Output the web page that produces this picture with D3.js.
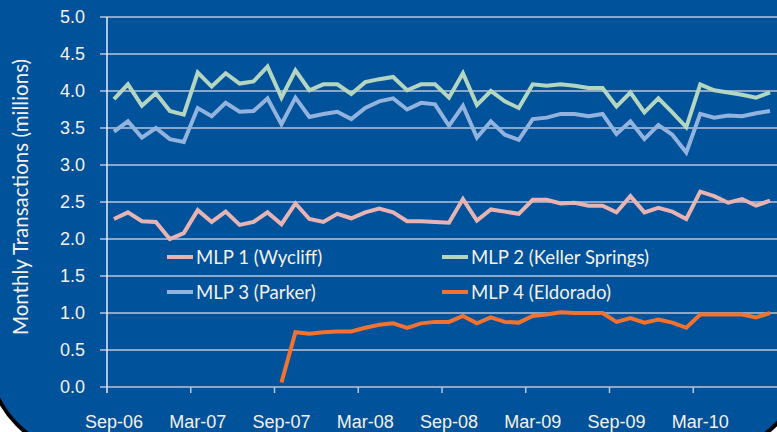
<!DOCTYPE html>
<html>
<head>
<meta charset="utf-8">
<script src="https://cdn.jsdelivr.net/npm/d3@7"></script>
<style>
body { margin: 0; background: #fff; }
svg { display: block; font-family: Lato, "Open Sans", sans-serif; }
</style>
</head>
<body>
<svg id="chart"></svg>
<script>
// months shown on the category axis, Sep-06 .. Aug-10
const months = [
  "Sep-06","Oct-06","Nov-06","Dec-06","Jan-07","Feb-07","Mar-07","Apr-07","May-07","Jun-07","Jul-07","Aug-07",
  "Sep-07","Oct-07","Nov-07","Dec-07","Jan-08","Feb-08","Mar-08","Apr-08","May-08","Jun-08","Jul-08","Aug-08",
  "Sep-08","Oct-08","Nov-08","Dec-08","Jan-09","Feb-09","Mar-09","Apr-09","May-09","Jun-09","Jul-09","Aug-09",
  "Sep-09","Oct-09","Nov-09","Dec-09","Jan-10","Feb-10","Mar-10","Apr-10","May-10","Jun-10","Jul-10","Aug-10"
];
const tickLabels = ["Sep-06","Mar-07","Sep-07","Mar-08","Sep-08","Mar-09","Sep-09","Mar-10"];
const yTicks = [0, 0.5, 1, 1.5, 2, 2.5, 3, 3.5, 4, 4.5, 5];

// monthly transactions, millions
const wycliff = [2.27,2.36,2.24,2.23,2.00,2.08,2.39,2.23,2.37,2.19,2.23,2.36,
                 2.20,2.48,2.27,2.23,2.34,2.28,2.36,2.41,2.36,2.24,2.24,2.23,
                 2.22,2.54,2.25,2.40,2.37,2.34,2.53,2.53,2.48,2.49,2.45,2.45,
                 2.36,2.58,2.36,2.42,2.37,2.27,2.64,2.58,2.49,2.54,2.45,2.52];
const kellerSprings = [3.89,4.09,3.80,3.97,3.73,3.68,4.25,4.06,4.24,4.10,4.13,4.33,
                       3.91,4.28,4.01,4.09,4.09,3.96,4.12,4.16,4.19,4.01,4.09,4.09,
                       3.91,4.24,3.81,4.00,3.86,3.77,4.09,4.07,4.09,4.07,4.04,4.04,
                       3.79,3.98,3.71,3.90,3.71,3.51,4.09,4.01,3.98,3.95,3.91,3.98];
const parker = [3.45,3.59,3.37,3.50,3.35,3.31,3.77,3.66,3.84,3.72,3.73,3.90,
                3.55,3.91,3.65,3.69,3.72,3.62,3.77,3.86,3.90,3.75,3.84,3.82,
                3.53,3.80,3.37,3.59,3.41,3.34,3.62,3.64,3.69,3.69,3.66,3.69,
                3.42,3.59,3.35,3.54,3.41,3.17,3.69,3.64,3.67,3.66,3.70,3.73];
const eldorado = [null,null,null,null,null,null,null,null,null,null,null,null,
                  0.06,0.74,0.72,0.74,0.75,0.75,0.80,0.84,0.86,0.80,0.86,0.88,
                  0.88,0.96,0.86,0.94,0.88,0.87,0.96,0.98,1.01,1.00,1.00,1.00,
                  0.88,0.93,0.87,0.91,0.87,0.80,0.98,0.98,0.98,0.98,0.94,1.00];

const series = [
  { name: "MLP 1 (Wycliff)", values: wycliff, color: "#e8b3b3" },
  { name: "MLP 2 (Keller Springs)", values: kellerSprings, color: "#b4d6c0" },
  { name: "MLP 3 (Parker)", values: parker, color: "#93b3df" },
  { name: "MLP 4 (Eldorado)", values: eldorado, color: "#f2722f" }
];

var dimensions = {
  width: 777,
  height: 432,
  margins: { top: 17, right: 0, bottom: 45, left: 107 }
};

var svg = d3.select("#chart")
  .attr("width", dimensions.width)
  .attr("height", dimensions.height);

// rounded slide panel with black edge, white outside
svg.append("rect")
  .attr("x", -12).attr("y", -150)
  .attr("width", 817).attr("height", 604)
  .attr("rx", 100).attr("ry", 100)
  .attr("fill", "#00529b")
  .attr("stroke", "#000")
  .attr("stroke-width", 4);

var xScale = d3.scaleBand()
  .domain(months)
  .range([dimensions.margins.left, dimensions.width])
  .paddingInner(0).paddingOuter(0);

var yScale = d3.scaleLinear()
  .domain([0, 5])
  .range([dimensions.height - dimensions.margins.bottom, dimensions.margins.top]);

var bw = xScale.bandwidth();

// gridlines
svg.append("g")
  .selectAll("line")
  .data(yTicks)
  .enter()
  .append("line")
  .attr("x1", dimensions.margins.left - 7)
  .attr("x2", dimensions.width)
  .attr("y1", d => yScale(d))
  .attr("y2", d => yScale(d))
  .attr("stroke", "#b9c5da")
  .attr("stroke-width", 1.5);

// y axis
var yAxis = svg.append("g")
  .attr("transform", `translate(${dimensions.margins.left},0)`)
  .call(d3.axisLeft(yScale).tickValues(yTicks).tickFormat(d3.format(".1f")).tickSize(0).tickPadding(22));
yAxis.select(".domain").remove();
yAxis.selectAll("text")
  .attr("fill", "#f5f1ea")
  .style("font-size", "18px");

svg.append("line")
  .attr("x1", dimensions.margins.left).attr("x2", dimensions.margins.left)
  .attr("y1", yScale(5)).attr("y2", yScale(0) + 6)
  .attr("stroke", "#e8ecf4")
  .attr("stroke-width", 1.5);

// x axis
var xAxis = svg.append("g")
  .attr("transform", `translate(0,${yScale(0)})`)
  .call(d3.axisBottom(xScale).tickValues(tickLabels).tickSize(6).tickPadding(22));
xAxis.select(".domain").remove();
xAxis.selectAll(".tick line")
  .attr("x1", -bw / 2).attr("x2", -bw / 2)
  .attr("stroke", "#b9c5da")
  .attr("stroke-width", 1.5);
xAxis.selectAll("text")
  .attr("fill", "#f5f1ea")
  .style("font-size", "18px");

// y axis label
svg.append("text")
  .attr("transform", "rotate(-90)")
  .attr("x", -197)
  .attr("y", 28)
  .style("text-anchor", "middle")
  .style("font-size", "20.5px")
  .attr("fill", "#f5f1ea")
  .text("Monthly Transactions (millions)");

// lines
var line = d3.line()
  .defined(d => d.v != null)
  .x(d => xScale(d.m) + bw / 2)
  .y(d => yScale(d.v));

svg.append("g")
  .selectAll("path")
  .data(series)
  .enter()
  .append("path")
  .attr("d", s => line(s.values.map((v, i) => ({ m: months[i], v: v }))))
  .attr("fill", "none")
  .attr("stroke", s => s.color)
  .attr("stroke-width", 4)
  .attr("stroke-linejoin", "miter");

// legend, two columns
var legendPos = [[167, 257], [442, 257], [167, 292], [442, 292]];
var legend = svg.append("g")
  .selectAll("g")
  .data(series)
  .enter()
  .append("g")
  .attr("transform", (d, i) => `translate(${legendPos[i][0]},${legendPos[i][1]})`);

legend.append("line")
  .attr("x1", 0).attr("x2", 26)
  .attr("stroke", d => d.color)
  .attr("stroke-width", 4);

legend.append("text")
  .attr("x", 29)
  .attr("dy", "0.35em")
  .style("font-size", "18.6px")
  .attr("fill", "#f5f1ea")
  .text(d => d.name);
</script>
</body>
</html>
